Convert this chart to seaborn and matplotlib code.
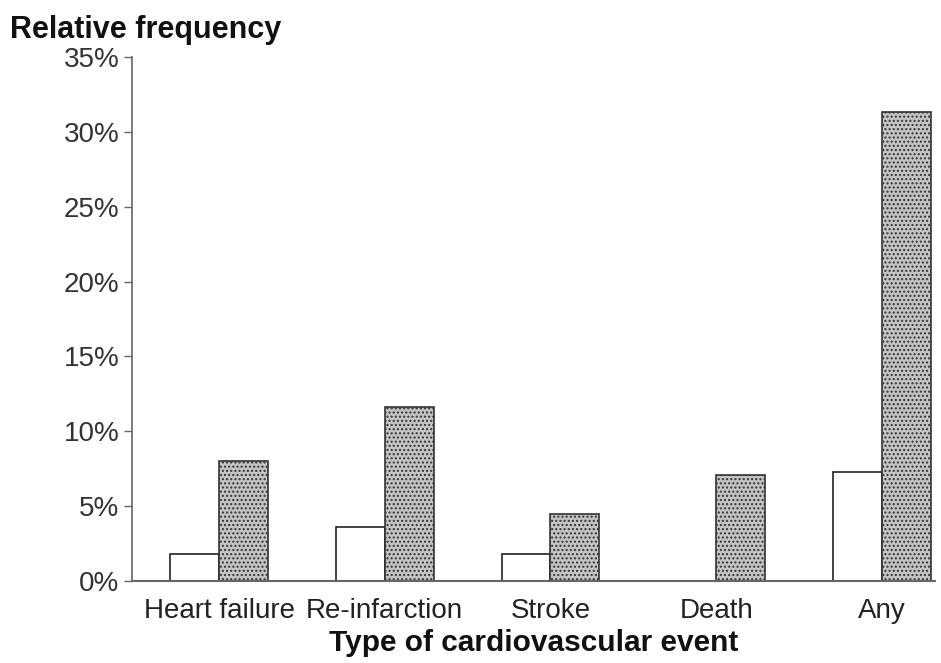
import matplotlib
matplotlib.use("Agg")
import matplotlib.pyplot as plt
import seaborn as sns
import pandas as pd

categories = ["Heart failure", "Re-infarction", "Stroke", "Death", "Any"]
series_names = ["Without", "With"]
values_without = [1.8, 3.6, 1.8, 0.0, 7.3]
values_with = [8.0, 11.6, 4.5, 7.1, 31.3]
y_ticks = [0, 5, 10, 15, 20, 25, 30, 35]

df = pd.DataFrame({
    "category": categories * 2,
    "group": [series_names[0]] * len(categories) + [series_names[1]] * len(categories),
    "value": values_without + values_with,
})

sns.set_style("white")
plt.rcParams["font.family"] = ["Liberation Sans", "DejaVu Sans"]
plt.rcParams["hatch.linewidth"] = 1.0

fig = plt.figure(figsize=(9.41, 6.63), dpi=100)
ax = fig.add_axes([0.1403, 0.1237, 0.8533, 0.7903])

sns.barplot(data=df, x="category", y="value", hue="group", order=categories,
            hue_order=series_names, palette=["white", "#c4c4c4"], width=0.59,
            gap=0, edgecolor="#222222", linewidth=1.2, legend=False, ax=ax,
            saturation=1)

for bar in ax.containers[1]:
    bar.set_hatch("....")
    bar.set_edgecolor("#333333")

ax.set_xlim(-0.525, 4.32)
ax.set_ylim(0, 35)
ax.set_yticks(y_ticks)
ax.set_yticklabels([f"{t}%" for t in y_ticks])
ax.tick_params(axis="y", direction="out", length=6, width=1, color="#666666",
               labelsize=20, labelcolor="#333333", pad=3, left=True)
ax.tick_params(axis="x", length=0, labelsize=20, labelcolor="#222222", pad=12)

for side in ["top", "right"]:
    ax.spines[side].set_visible(False)
ax.spines["left"].set_color("#666666")
ax.spines["bottom"].set_color("#666666")
ax.spines["left"].set_linewidth(1.2)
ax.spines["bottom"].set_linewidth(1.5)

ax.set_ylabel("")
ax.set_xlabel("Type of cardiovascular event", fontsize=21.5, fontweight="bold",
              color="#111111", labelpad=4)
fig.text(0.011, 0.955, "Relative frequency", fontsize=22, fontweight="bold",
         color="#111111", ha="left", va="center")

fig.savefig("out.png", dpi=100, facecolor="white")
